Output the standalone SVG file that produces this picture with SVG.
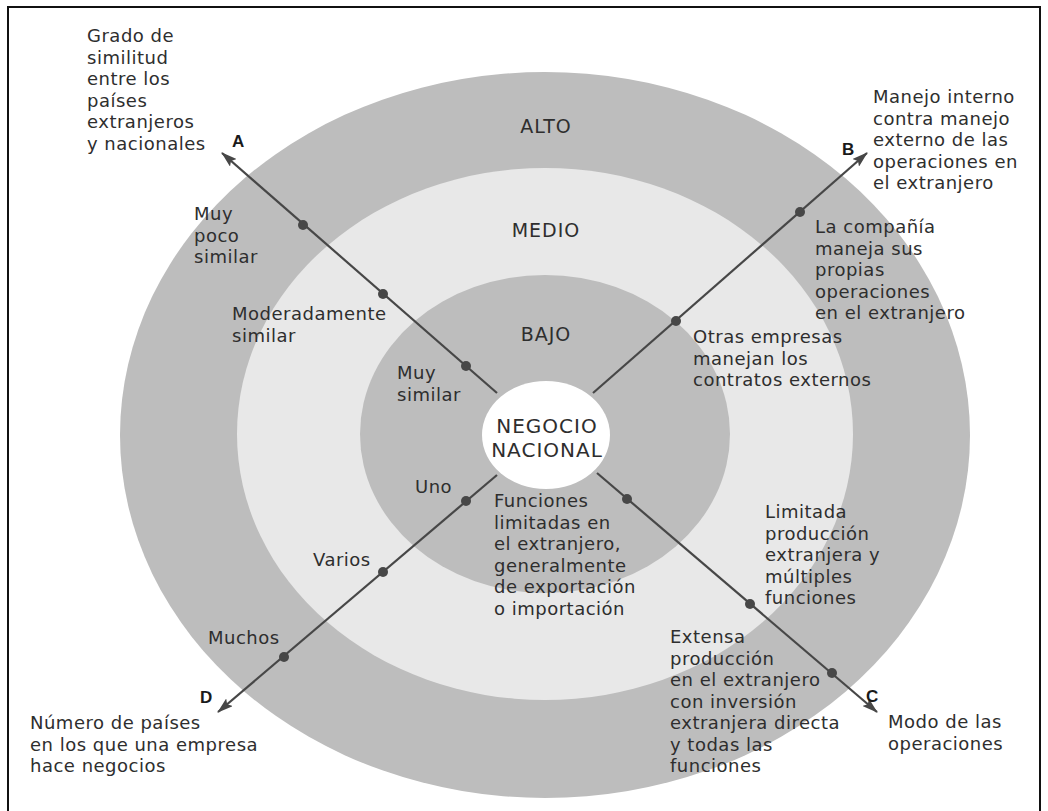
<svg xmlns="http://www.w3.org/2000/svg" width="1048" height="811" viewBox="0 0 1048 811">
<style>
  .t { font-family: "DejaVu Sans", "Liberation Sans", sans-serif; font-size: 18px; letter-spacing: 0.5px; fill: #2e2e2e; }
  .lvl { font-family: "DejaVu Sans", "Liberation Sans", sans-serif; font-size: 19px; letter-spacing: 1px; fill: #2e2e2e; text-anchor: middle; }
  .ctr { font-family: "DejaVu Sans", "Liberation Sans", sans-serif; font-size: 20px; letter-spacing: 1px; fill: #2e2e2e; text-anchor: middle; }
  .ax { font-family: "Liberation Sans", Arial, sans-serif; font-size: 17px; font-weight: bold; fill: #1a1a1a; }
  .axis { stroke: #474747; stroke-width: 2.2; fill: none; marker-end: url(#arr); }
  .dot { fill: #474747; }
</style>
<defs>
  <marker id="arr" viewBox="0 0 16 10" refX="15" refY="5" markerWidth="16" markerHeight="10" markerUnits="userSpaceOnUse" orient="auto">
    <path d="M0,0 L16,5 L0,10 L3,5 z" fill="#474747"/>
  </marker>
</defs>
<rect width="1048" height="811" fill="#ffffff"/>
<path d="M8,811 V7 H1040 V811" fill="none" stroke="#111" stroke-width="2"/>

<g id="ring-alto">
  <ellipse cx="545" cy="435" rx="425" ry="363" fill="#bdbdbd"/>
  <text class="lvl" x="546" y="133">ALTO</text>
</g>
<g id="ring-medio">
  <ellipse cx="545" cy="434" rx="308" ry="266" fill="#e8e8e8"/>
  <text class="lvl" x="546" y="237">MEDIO</text>
</g>
<g id="ring-bajo">
  <ellipse cx="545" cy="434" rx="185" ry="159" fill="#bdbdbd"/>
  <text class="lvl" x="546" y="341">BAJO</text>
</g>

<g id="connectors">
  <line class="axis" x1="497" y1="393" x2="222" y2="153"/>
  <line class="axis" x1="593" y1="393" x2="867" y2="153"/>
  <line class="axis" x1="597" y1="473" x2="877" y2="712"/>
  <line class="axis" x1="497" y1="475" x2="218" y2="712"/>
  <circle class="dot" cx="466" cy="366" r="5"/>
  <circle class="dot" cx="383" cy="294" r="5"/>
  <circle class="dot" cx="303" cy="225" r="5"/>
  <circle class="dot" cx="676" cy="321" r="5"/>
  <circle class="dot" cx="800" cy="212" r="5"/>
  <circle class="dot" cx="627" cy="499" r="5"/>
  <circle class="dot" cx="750" cy="604" r="5"/>
  <circle class="dot" cx="832" cy="673" r="5"/>
  <circle class="dot" cx="466" cy="501" r="5"/>
  <circle class="dot" cx="383" cy="572" r="5"/>
  <circle class="dot" cx="284" cy="657" r="5"/>
</g>

<g id="center">
  <ellipse cx="546" cy="435" rx="64" ry="54" fill="#ffffff"/>
  <text class="ctr" x="547" y="433">NEGOCIO</text>
  <text class="ctr" x="547" y="457">NACIONAL</text>
</g>

<g id="axis-a">
  <text class="ax" x="232" y="147">A</text>
  <text class="t"><tspan x="87" y="42">Grado de</tspan><tspan x="87" y="63.5">similitud</tspan><tspan x="87" y="85">entre los</tspan><tspan x="87" y="106.5">países</tspan><tspan x="87" y="128">extranjeros</tspan><tspan x="87" y="149.5">y nacionales</tspan></text>
  <text class="t"><tspan x="194" y="220">Muy</tspan><tspan x="194" y="241.5">poco</tspan><tspan x="194" y="263">similar</tspan></text>
  <text class="t"><tspan x="232" y="320">Moderadamente</tspan><tspan x="232" y="341.5">similar</tspan></text>
  <text class="t"><tspan x="397" y="379">Muy</tspan><tspan x="397" y="400.5">similar</tspan></text>
</g>

<g id="axis-b">
  <text class="ax" x="842" y="155">B</text>
  <text class="t"><tspan x="873" y="103">Manejo interno</tspan><tspan x="873" y="124.5">contra manejo</tspan><tspan x="873" y="146">externo de las</tspan><tspan x="873" y="167.5">operaciones en</tspan><tspan x="873" y="189">el extranjero</tspan></text>
  <text class="t"><tspan x="815" y="233">La compañía</tspan><tspan x="815" y="254.5">maneja sus</tspan><tspan x="815" y="276">propias</tspan><tspan x="815" y="297.5">operaciones</tspan><tspan x="815" y="319">en el extranjero</tspan></text>
  <text class="t"><tspan x="693" y="343">Otras empresas</tspan><tspan x="693" y="364.5">manejan los</tspan><tspan x="693" y="386">contratos externos</tspan></text>
</g>

<g id="axis-c">
  <text class="ax" x="866" y="702">C</text>
  <text class="t"><tspan x="888" y="728">Modo de las</tspan><tspan x="888" y="749.5">operaciones</tspan></text>
  <text class="t"><tspan x="494" y="507">Funciones</tspan><tspan x="494" y="528.5">limitadas en</tspan><tspan x="494" y="550">el extranjero,</tspan><tspan x="494" y="571.5">generalmente</tspan><tspan x="494" y="593">de exportación</tspan><tspan x="494" y="614.5">o importación</tspan></text>
  <text class="t"><tspan x="765" y="518">Limitada</tspan><tspan x="765" y="539.5">producción</tspan><tspan x="765" y="561">extranjera y</tspan><tspan x="765" y="582.5">múltiples</tspan><tspan x="765" y="604">funciones</tspan></text>
  <text class="t"><tspan x="670" y="643">Extensa</tspan><tspan x="670" y="664.5">producción</tspan><tspan x="670" y="686">en el extranjero</tspan><tspan x="670" y="707.5">con inversión</tspan><tspan x="670" y="729">extranjera directa</tspan><tspan x="670" y="750.5">y todas las</tspan><tspan x="670" y="772">funciones</tspan></text>
</g>

<g id="axis-d">
  <text class="ax" x="200" y="703">D</text>
  <text class="t"><tspan x="30" y="729">Número de países</tspan><tspan x="30" y="750.5">en los que una empresa</tspan><tspan x="30" y="772">hace negocios</tspan></text>
  <text class="t" x="415" y="493">Uno</text>
  <text class="t" x="313" y="566">Varios</text>
  <text class="t" x="208" y="644">Muchos</text>
</g>
</svg>
